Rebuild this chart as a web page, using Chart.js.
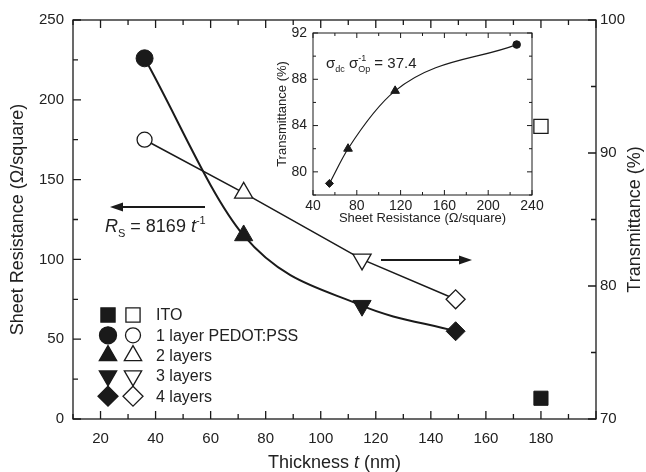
<!DOCTYPE html>
<html>
<head>
<meta charset="utf-8">
<script src="https://cdn.jsdelivr.net/npm/chart.js@4.4.1/dist/chart.umd.min.js"></script>
<style>
html, body { margin: 0; padding: 0; background: #fff; }
#wrap { position: relative; width: 646px; height: 472px; }
#main { position: absolute; left: 0; top: 0; }
#inset { position: absolute; left: 262px; top: 22px; }
</style>
</head>
<body>
<div id="wrap">
  <canvas id="main" width="646" height="472"></canvas>
  <canvas id="inset" width="292" height="210"></canvas>
</div>
<script>
// PEDOT:PSS films (1..4 layers)
const thickness = [36, 72, 115, 149];
const sheetResistance = [226, 115, 71, 55];
const transmittance = [91, 87, 82, 79];
// ITO reference
const itoThickness = [180];
const itoSheetResistance = [13];
const itoTransmittance = [92];

const layerMarkers = ['circle', 'triangle', 'triangle', 'rectRot'];
const layerRotations = [0, 0, 180, 0];
const legendLabels = ['ITO', '1 layer PEDOT:PSS', '2 layers', '3 layers', '4 layers'];
const legendMarkers = ['rect', 'circle', 'triangle', 'triangle', 'rectRot'];
const legendRotations = [0, 0, 0, 180, 0];

const xTicks = [20, 40, 60, 80, 100, 120, 140, 160, 180];
const yTicks = [0, 50, 100, 150, 200, 250];
const y2Ticks = [70, 80, 90, 100];

// inset: transmittance vs sheet resistance
const insetSheetResistance = [55, 72, 115, 226];
const insetTransmittance = [79, 82, 87, 91];
const insetMarkers = ['rectRot', 'triangle', 'triangle', 'circle'];
const insetXTicks = [40, 80, 120, 160, 200, 240];
const insetYTicks = [80, 84, 88, 92];

const ink = '#1a1a1a';
const FONT = '"Liberation Sans", Arial, Helvetica, sans-serif';
Chart.defaults.font.family = FONT;
Chart.defaults.color = '#222';

function marker(ctx, style, x, y, r, rot, filled) {
  ctx.save();
  ctx.beginPath();
  if (style === 'circle') {
    ctx.arc(x, y, r, 0, Math.PI * 2);
  } else if (style === 'rect') {
    const s = r * Math.SQRT1_2;
    ctx.rect(x - s, y - s, 2 * s, 2 * s);
  } else if (style === 'triangle') {
    for (let k = 0; k < 3; k++) {
      const a = rot * Math.PI / 180 + k * 2 * Math.PI / 3;
      const px = x + Math.sin(a) * r, py = y - Math.cos(a) * r;
      if (k) ctx.lineTo(px, py); else ctx.moveTo(px, py);
    }
    ctx.closePath();
  } else {
    ctx.moveTo(x, y - r); ctx.lineTo(x + r, y); ctx.lineTo(x, y + r); ctx.lineTo(x - r, y);
    ctx.closePath();
  }
  ctx.fillStyle = filled ? ink : '#fff';
  ctx.fill();
  ctx.lineWidth = 1.3;
  ctx.strokeStyle = ink;
  ctx.stroke();
  ctx.restore();
}

// parts: [text, size, italic, dy, advance]
function richText(ctx, parts, x, y, align) {
  let total = 0;
  parts.forEach(p => {
    ctx.font = (p[2] ? 'italic ' : '') + p[1] + 'px ' + FONT;
    p.w = ctx.measureText(p[0]).width;
    if (p[4] !== false) total += p.w;
  });
  let cx = align === 'center' ? x - total / 2 : x;
  ctx.textAlign = 'left';
  ctx.textBaseline = 'alphabetic';
  parts.forEach(p => {
    ctx.font = (p[2] ? 'italic ' : '') + p[1] + 'px ' + FONT;
    ctx.fillText(p[0], cx, y + (p[3] || 0));
    if (p[4] !== false) cx += p.w;
  });
}

function arrow(ctx, x1, x2, y) {
  const dir = Math.sign(x2 - x1);
  ctx.save();
  ctx.strokeStyle = ink; ctx.fillStyle = ink; ctx.lineWidth = 2;
  ctx.beginPath(); ctx.moveTo(x1, y); ctx.lineTo(x2 - dir * 10, y); ctx.stroke();
  ctx.beginPath(); ctx.moveTo(x2, y); ctx.lineTo(x2 - dir * 13, y - 4.5); ctx.lineTo(x2 - dir * 13, y + 4.5);
  ctx.closePath(); ctx.fill();
  ctx.restore();
}

// inward ticks on one edge of the frame
function edgeTicks(ctx, scale, edge, area, major, minor, majLen, minLen) {
  ctx.beginPath();
  for (let v = scale.min; v <= scale.max + 1e-9; v += minor) {
    const isMajor = Math.abs(v / major - Math.round(v / major)) < 1e-6;
    const len = isMajor ? majLen : minLen;
    const p = scale.getPixelForValue(v);
    if (edge === 'bottom') { ctx.moveTo(p, area.bottom); ctx.lineTo(p, area.bottom - len); }
    if (edge === 'top') { ctx.moveTo(p, area.top); ctx.lineTo(p, area.top + len); }
    if (edge === 'left') { ctx.moveTo(area.left, p); ctx.lineTo(area.left + len, p); }
    if (edge === 'right') { ctx.moveTo(area.right, p); ctx.lineTo(area.right - len, p); }
  }
  ctx.stroke();
}

const mainDecor = {
  id: 'mainDecor',
  beforeDatasetsDraw(chart) {
    const ctx = chart.ctx, a = chart.chartArea, s = chart.scales;
    ctx.save();
    ctx.strokeStyle = ink; ctx.lineWidth = 1.3;
    ctx.strokeRect(a.left, a.top, a.right - a.left, a.bottom - a.top);
    edgeTicks(ctx, s.x, 'bottom', a, 20, 10, 8, 5);
    edgeTicks(ctx, s.x, 'top', a, 20, 10, 8, 5);
    edgeTicks(ctx, s.y, 'left', a, 50, 25, 8, 5);
    edgeTicks(ctx, s.y2, 'right', a, 10, 5, 8, 5);
    ctx.restore();
  },
  afterDatasetsDraw(chart) {
    const ctx = chart.ctx, a = chart.chartArea;
    ctx.save();
    ctx.fillStyle = '#222';
    // axis titles
    richText(ctx, [['Thickness ', 18], ['t', 18, true], [' (nm)', 18]], (a.left + a.right) / 2, 468, 'center');
    ctx.save();
    ctx.translate(635, (a.top + a.bottom) / 2);
    ctx.rotate(-Math.PI / 2);
    ctx.font = '18px ' + FONT;
    ctx.textAlign = 'center'; ctx.textBaseline = 'middle';
    ctx.fillText('Transmittance (%)', 0, 0);
    ctx.restore();
    // arrows and fit label
    arrow(ctx, 205, 110, 207);
    arrow(ctx, 381, 472, 260);
    richText(ctx, [['R', 18, true], ['S', 11, false, 5], [' = 8169 ', 18], ['t', 18, true], ['-1', 11, false, -8]], 105, 232);
    // legend
    legendLabels.forEach((lab, i) => {
      const y = 315 + i * 20.3;
      const st = legendMarkers[i];
      marker(ctx, st, 108, y, st === 'circle' ? 8.5 : 10, legendRotations[i], true);
      marker(ctx, st, 133, y, st === 'circle' ? 7.5 : 10, legendRotations[i], false);
      ctx.font = '16px ' + FONT;
      ctx.textAlign = 'left'; ctx.textBaseline = 'middle';
      ctx.fillText(lab, 156, y + 1);
    });
    ctx.restore();
  }
};

const tickFont = { size: 15 };
new Chart(document.getElementById('main'), {
  type: 'scatter',
  data: {
    datasets: [
      {
        type: 'line',
        data: thickness.map((t, i) => ({ x: t, y: sheetResistance[i] })),
        yAxisID: 'y',
        borderColor: ink, borderWidth: 2,
        cubicInterpolationMode: 'monotone',
        pointStyle: layerMarkers, pointRotation: layerRotations,
        pointRadius: [8.5, 10.5, 10.5, 9.5],
        pointBackgroundColor: ink, pointBorderColor: ink, pointBorderWidth: 1
      },
      {
        type: 'line',
        data: thickness.map((t, i) => ({ x: t, y: transmittance[i] })),
        yAxisID: 'y2',
        borderColor: ink, borderWidth: 1.6, tension: 0,
        pointStyle: layerMarkers, pointRotation: layerRotations,
        pointRadius: [7.5, 10.5, 10.5, 9.5],
        pointBackgroundColor: '#fff', pointBorderColor: ink, pointBorderWidth: 1.3
      },
      {
        data: itoThickness.map((t, i) => ({ x: t, y: itoSheetResistance[i] })),
        yAxisID: 'y',
        pointStyle: 'rect', pointRadius: 10,
        pointBackgroundColor: ink, pointBorderColor: ink, pointBorderWidth: 1
      },
      {
        data: itoThickness.map((t, i) => ({ x: t, y: itoTransmittance[i] })),
        yAxisID: 'y2',
        pointStyle: 'rect', pointRadius: 10,
        pointBackgroundColor: '#fff', pointBorderColor: ink, pointBorderWidth: 1.3
      }
    ]
  },
  options: {
    responsive: false, animation: false, devicePixelRatio: 1,
    layout: { padding: { top: 20 } },
    plugins: { legend: { display: false }, tooltip: { enabled: false } },
    scales: {
      x: {
        type: 'linear', position: 'bottom', min: 10, max: 200,
        afterBuildTicks: s => { s.ticks = xTicks.map(v => ({ value: v })); },
        afterFit: s => { s.height = 53; s.paddingLeft = 0; s.paddingRight = 0; },
        grid: { display: false, drawTicks: false }, border: { display: false },
        ticks: { font: tickFont, color: '#222', padding: 11, maxRotation: 0, autoSkip: false }
      },
      y: {
        position: 'left', min: 0, max: 250,
        afterBuildTicks: s => { s.ticks = yTicks.map(v => ({ value: v })); },
        afterFit: s => { s.width = 73; s.paddingTop = 0; s.paddingBottom = 0; },
        grid: { display: false, drawTicks: false }, border: { display: false },
        ticks: { font: tickFont, color: '#222', padding: 9 },
        title: { display: true, text: 'Sheet Resistance (Ω/square)', font: { size: 18 }, color: '#222', padding: { top: 7 } }
      },
      y2: {
        position: 'right', min: 70, max: 100,
        afterBuildTicks: s => { s.ticks = y2Ticks.map(v => ({ value: v })); },
        afterFit: s => { s.width = 50; s.paddingTop = 0; s.paddingBottom = 0; },
        grid: { display: false, drawTicks: false }, border: { display: false },
        ticks: { font: tickFont, color: '#222', padding: 4 }
      }
    }
  },
  plugins: [mainDecor]
});

const insetDecor = {
  id: 'insetDecor',
  beforeDatasetsDraw(chart) {
    const ctx = chart.ctx, a = chart.chartArea, s = chart.scales;
    ctx.save();
    ctx.fillStyle = '#fff';
    ctx.fillRect(a.left, a.top, a.right - a.left, a.bottom - a.top);
    ctx.strokeStyle = ink; ctx.lineWidth = 1;
    ctx.strokeRect(a.left, a.top, a.right - a.left, a.bottom - a.top);
    edgeTicks(ctx, s.x, 'bottom', a, 40, 20, 5, 3);
    edgeTicks(ctx, s.x, 'top', a, 40, 20, 5, 3);
    edgeTicks(ctx, s.y, 'left', a, 4, 2, 5, 3);
    edgeTicks(ctx, s.y, 'right', a, 4, 2, 5, 3);
    ctx.restore();
  },
  afterDatasetsDraw(chart) {
    const ctx = chart.ctx, a = chart.chartArea;
    ctx.save();
    ctx.fillStyle = '#222';
    richText(ctx, [
      ['σ', 15], ['dc', 9, false, 4], [' σ', 15], ['-1', 9, false, -7, false], ['Op', 9, false, 4], [' = 37.4', 15]
    ], a.left + 13, a.top + 35);
    ctx.restore();
  }
};

new Chart(document.getElementById('inset'), {
  type: 'scatter',
  data: {
    datasets: [{
      type: 'line',
      data: insetSheetResistance.map((r, i) => ({ x: r, y: insetTransmittance[i] })),
      borderColor: ink, borderWidth: 1.2,
      cubicInterpolationMode: 'monotone',
      pointStyle: insetMarkers, pointRadius: [4, 5, 5, 3.8],
      pointBackgroundColor: ink, pointBorderColor: ink, pointBorderWidth: 1
    }]
  },
  options: {
    responsive: false, animation: false, devicePixelRatio: 1,
    layout: { padding: { top: 11, right: 22 } },
    plugins: { legend: { display: false }, tooltip: { enabled: false } },
    scales: {
      x: {
        type: 'linear', min: 40, max: 240,
        afterBuildTicks: s => { s.ticks = insetXTicks.map(v => ({ value: v })); },
        afterFit: s => { s.height = 37; s.paddingLeft = 0; s.paddingRight = 0; },
        grid: { display: false, drawTicks: false }, border: { display: false },
        ticks: { font: { size: 14 }, color: '#222', padding: 3, maxRotation: 0, autoSkip: false },
        title: { display: true, text: 'Sheet Resistance (Ω/square)', font: { size: 13 }, color: '#222', padding: { top: 0, bottom: 6 } }
      },
      y: {
        min: 78, max: 92,
        afterBuildTicks: s => { s.ticks = insetYTicks.map(v => ({ value: v })); },
        afterFit: s => { s.width = 51; s.paddingTop = 0; s.paddingBottom = 0; },
        grid: { display: false, drawTicks: false }, border: { display: false },
        ticks: { font: { size: 14 }, color: '#222', padding: 6 },
        title: { display: true, text: 'Transmittance (%)', font: { size: 13 }, color: '#222', padding: { top: 13 } }
      }
    }
  },
  plugins: [insetDecor]
});
</script>
</body>
</html>
